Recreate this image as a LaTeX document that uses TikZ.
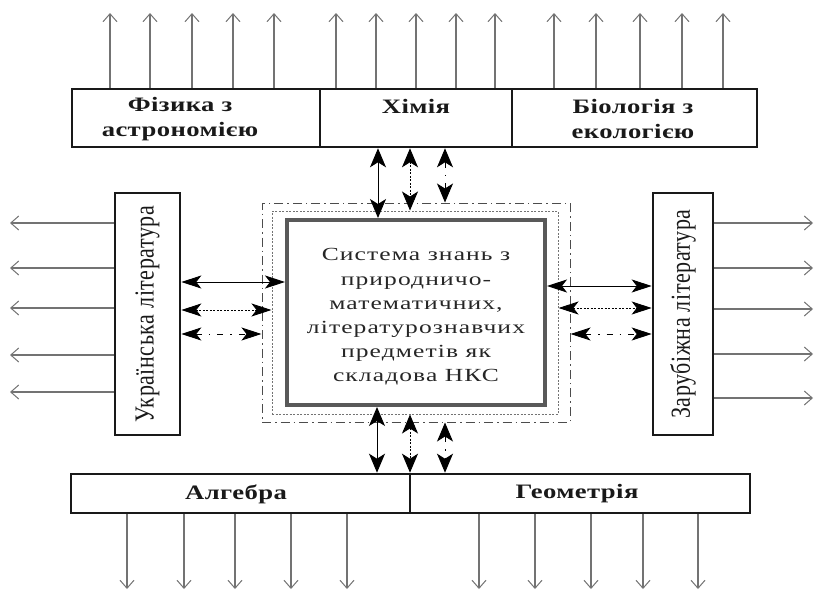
\documentclass[tikz,border=0pt]{standalone}
\usepackage{fontspec}
\setmainfont{Liberation Serif}
\newfontfamily\hfont{Liberation Serif}[FakeStretch=1.3,LetterSpace=2]
\newfontfamily\cfont{Liberation Serif}[FakeStretch=1.38,LetterSpace=6]
\newfontfamily\rfont{Liberation Serif}[FakeStretch=0.8,LetterSpace=2]
\usetikzlibrary{arrows.meta,calc}
\begin{document}
\begin{tikzpicture}[x=1pt,y=-1pt,
  box/.style={draw=black!90, line width=2.6pt, inner sep=0pt},
  outarr/.style={draw=black!55, line width=1.1pt, -{Straight Barb[length=8pt,width=14pt,line width=1pt]}},
  vbi/.style={black, line width=0.9pt, {Stealth[length=19pt,width=16pt,inset=5pt]}-{Stealth[length=19pt,width=16pt,inset=5pt]}},
  hbi/.style={black, line width=0.9pt, {Stealth[length=20pt,width=13pt,inset=5pt]}-{Stealth[length=20pt,width=13pt,inset=5pt]}},
  dotl/.style={dash pattern=on 2pt off 1.5pt},
  dashdotl/.style={dash pattern=on 6pt off 7pt on 1.5pt off 7pt},
  btxt/.style={font=\hfont\bfseries\fontsize{20.5}{25}\selectfont, align=center, text=black!90, inner sep=0pt},
  ctxt/.style={font=\cfont\fontsize{18.5}{24.2}\selectfont, align=center, text=black!85, inner sep=0pt},
  rtxt/.style={font=\rfont\fontsize{27.5}{30}\selectfont, text=black!90}
]
\useasboundingbox (0,0) rectangle (815,592);
% top boxes
\node[box, minimum width=248pt, minimum height=58pt] (phys) at (196,118) {};
\node[box, minimum width=192pt, minimum height=58pt] (chem) at (416,118) {};
\node[box, minimum width=245pt, minimum height=58pt] (bio) at (634.5,118) {};
\node[btxt] (tphys) at (180,119) {Фізика з\\астрономією};
\node[btxt] (tchem) at (416,106) {Хімія};
\node[btxt] (tbio) at (633,119) {Біологія з\\екологією};
% bottom boxes
\node[box, minimum width=339pt, minimum height=39pt] (alg) at (240.5,493.5) {};
\node[box, minimum width=340pt, minimum height=39pt] (geo) at (580,493.5) {};
\node[btxt] (talg) at (236,494) {Алгебра};
\node[btxt] (tgeo) at (577,494) {Геометрія};
% side boxes
\node[box, rotate=90, minimum width=242pt, minimum height=65pt, rtxt] (ukr) at (147.5,314) {Українська література};
\node[box, rotate=90, minimum width=242pt, minimum height=60pt, rtxt] (zar) at (683,314) {Зарубіжна література};
% centre boxes
\node[draw=black!70, line width=1pt, dash pattern=on 9pt off 4pt on 1.5pt off 4pt, minimum width=308pt, minimum height=219pt] (dd) at (416,312.5) {};
\node[draw=black!55, line width=1pt, dotl, minimum width=286pt, minimum height=203pt] (dt) at (415,312.5) {};
\node[draw=black!65, line width=4pt, minimum width=258pt, minimum height=185pt] (inner) at (416,312.5) {};
\node[ctxt] (tinner) at (416,317) {Система знань з\\природничо-\\математичних,\\літературознавчих\\предметів як\\складова НКС};
% outward arrows, top
\foreach \x in {110,150,192,233,274} \draw[outarr] (\x,0 |- phys.north) -- (\x,13);
\foreach \x in {336,376,416,456,495} \draw[outarr] (\x,0 |- chem.north) -- (\x,13);
\foreach \x in {554,596,640,682,723} \draw[outarr] (\x,0 |- bio.north) -- (\x,13);
% outward arrows, bottom
\foreach \x in {127,184,235,291,347} \draw[outarr] (\x,0 |- alg.south) -- (\x,589);
\foreach \x in {479,535,591,643,698} \draw[outarr] (\x,0 |- geo.south) -- (\x,589);
% outward arrows, sides
\foreach \y in {223,268,308,355,392} \draw[outarr] (0,\y -| ukr.north) -- (10,\y);
\foreach \y in {223,268,309,354,398} \draw[outarr] (0,\y -| zar.south) -- (813,\y);
% links top
\draw[vbi] (378,0 |- chem.south) -- (378,0 |- inner.north);
\draw[vbi, dotl] (410,0 |- chem.south) -- (410,0 |- dt.north);
\draw[vbi, dashdotl] (445,0 |- chem.south) -- (445,0 |- dd.north);
% links bottom
\draw[vbi] (377,0 |- inner.south) -- (377,0 |- alg.north);
\draw[vbi, dotl] (410,0 |- dt.south) -- (410,0 |- alg.north);
\draw[vbi, dashdotl] (445,0 |- dd.south) -- (445,0 |- geo.north);
% links left
\draw[hbi] (0,282 -| ukr.south) -- (0,282 -| inner.west);
\draw[hbi, dotl] (0,310 -| ukr.south) -- (0,310 -| dt.west);
\draw[hbi, dashdotl] (0,334 -| ukr.south) -- (0,334 -| dd.west);
% links right
\draw[hbi] (0,286 -| inner.east) -- (0,286 -| zar.north);
\draw[hbi, dotl] (0,308 -| dt.east) -- (0,308 -| zar.north);
\draw[hbi, dashdotl] (0,334 -| dd.east) -- (0,334 -| zar.north);
\end{tikzpicture}
\end{document}
